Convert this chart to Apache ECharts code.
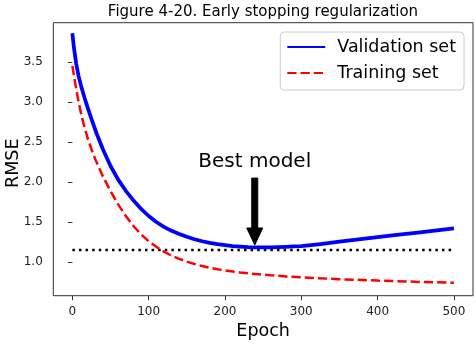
<!DOCTYPE html>
<html>
<head>
<meta charset="utf-8">
<script src="https://cdn.jsdelivr.net/npm/echarts@6/dist/echarts.min.js"></script>
<style>
html,body{margin:0;padding:0;background:#fff;}
#chart{width:476px;height:345px;}
</style>
</head>
<body>
<div id="chart"></div>
<script>
const titleText = 'Figure 4-20. Early stopping regularization';
const xTicks = [0, 100, 200, 300, 400, 500];
const yTicks = [1.0, 1.5, 2.0, 2.5, 3.0, 3.5];

const valEpochs = [0, 2, 5, 8, 12, 16, 20, 26, 32, 40, 50, 60, 70, 80, 90, 100, 110, 120, 130, 140, 150, 160, 170, 180, 190, 200, 210, 220, 230, 240, 250, 260, 270, 280, 290, 300, 325, 350, 375, 400, 425, 450, 475, 500];
const valRmse = [3.86, 3.68, 3.48, 3.33, 3.18, 3.05, 2.93, 2.76, 2.60, 2.41, 2.20, 2.03, 1.89, 1.77, 1.665, 1.575, 1.50, 1.44, 1.39, 1.35, 1.315, 1.285, 1.26, 1.24, 1.224, 1.211, 1.20, 1.192, 1.186, 1.183, 1.182, 1.183, 1.185, 1.189, 1.194, 1.20, 1.225, 1.255, 1.283, 1.31, 1.338, 1.365, 1.392, 1.42];

const trainEpochs = [0, 4, 8, 12, 16, 20, 25, 30, 40, 50, 60, 70, 80, 90, 100, 110, 120, 130, 140, 150, 160, 170, 180, 190, 200, 220, 240, 260, 280, 300, 350, 400, 450, 500];
const trainRmse = [3.45, 3.22, 3.01, 2.83, 2.68, 2.55, 2.41, 2.285, 2.07, 1.885, 1.72, 1.575, 1.45, 1.345, 1.26, 1.19, 1.13, 1.08, 1.04, 1.005, 0.975, 0.95, 0.928, 0.91, 0.895, 0.87, 0.85, 0.834, 0.82, 0.808, 0.785, 0.768, 0.753, 0.74];

const bestLineEpochs = [0, 500];
const bestLineRmse = [1.15, 1.15];

const bestEpoch = 239;
const bestRmse = 1.18;
const bestTextRmse = 2.18;
const bestLabel = 'Best model';

const FONT = 'DejaVu Sans';
const zip = (xs, ys) => xs.map((x, i) => [x, ys[i]]);

const chart = echarts.init(document.getElementById('chart'), null, {renderer: 'canvas'});
chart.setOption({
  animation: false,
  backgroundColor: '#fff',
  textStyle: {fontFamily: FONT},
  title: {
    text: titleText,
    left: 263,
    top: 5,
    textAlign: 'center',
    padding: 0,
    textStyle: {fontFamily: FONT, fontSize: 15, fontWeight: 'normal', color: '#000'}
  },
  grid: {
    left: 53.3, top: 22.7, right: 3, bottom: 49.3,
    show: true, borderColor: '#333', borderWidth: 1, backgroundColor: 'transparent',
    containLabel: false,
    outerBoundsMode: 'none'
  },
  legend: {
    orient: 'vertical',
    right: 12,
    top: 32,
    data: ['Validation set', 'Training set'],
    itemWidth: 38,
    itemHeight: 14,
    itemGap: 6,
    padding: [5, 8, 7, 6],
    backgroundColor: '#fff',
    borderColor: '#cccccc',
    borderWidth: 1,
    borderRadius: 4,
    itemStyle: {opacity: 0},
    textStyle: {fontFamily: FONT, fontSize: 17.5, color: '#000', lineHeight: 20, padding: [0, 0, 0, 7]}
  },
  xAxis: {
    type: 'value',
    min: -25, max: 525,
    name: 'Epoch',
    nameLocation: 'middle',
    nameGap: 27,
    nameMoveOverlap: false,
    nameTextStyle: {fontFamily: FONT, fontSize: 17.5, color: '#000'},
    axisLine: {show: false},
    splitLine: {show: false},
    axisTick: {show: true, inside: false, length: 4.5, customValues: xTicks, lineStyle: {color: '#333', width: 1}},
    axisLabel: {customValues: xTicks, margin: 10, fontFamily: FONT, fontSize: 12, color: '#222'}
  },
  yAxis: {
    type: 'value',
    min: 0.579, max: 3.991,
    name: 'RMSE',
    nameLocation: 'middle',
    nameGap: 31,
    nameMoveOverlap: false,
    nameTextStyle: {fontFamily: FONT, fontSize: 17.5, color: '#000', padding: [0, 8, 0, 0]},
    axisLine: {show: false},
    splitLine: {show: false},
    axisTick: {show: true, inside: false, length: 4.5, customValues: yTicks, lineStyle: {color: '#333', width: 1}},
    axisLabel: {customValues: yTicks, margin: 10.5, fontFamily: FONT, fontSize: 12, color: '#222',
      formatter: v => Number(v).toFixed(1)}
  },
  series: [
    {
      name: 'best', type: 'line', silent: true, symbol: 'none',
      data: zip(bestLineEpochs, bestLineRmse),
      lineStyle: {color: '#000', width: 2.5, type: [2.5, 4.1], cap: 'butt'},
      z: 1
    },
    {
      name: 'Validation set', type: 'line', symbol: 'none', smooth: false,
      data: zip(valEpochs, valRmse),
      itemStyle: {color: '#0000ff'},
      lineStyle: {color: '#0000ff', width: 3.75, join: 'round'},
      z: 3
    },
    {
      name: 'Training set', type: 'line', symbol: 'none', smooth: false,
      data: zip(trainEpochs, trainRmse),
      itemStyle: {color: '#ff0000'},
      lineStyle: {color: '#ff0000', width: 2.5, type: [9.25, 4], cap: 'butt'},
      z: 3
    },
    {
      name: 'annotation', type: 'custom', silent: true,
      data: [[bestEpoch, bestRmse, bestTextRmse]],
      z: 5,
      renderItem: function (params, api) {
        const p0 = api.coord([api.value(0), api.value(1)]);
        const p1 = api.coord([api.value(0), api.value(2)]);
        const x = p0[0];
        const tipY = p0[1] - 2.6;
        const headTop = tipY - 17;
        const shaftTop = p1[1] + 10.5;
        return {
          type: 'group',
          children: [
            {
              type: 'polygon',
              shape: {points: [[x - 3, shaftTop], [x + 3, shaftTop], [x + 3, headTop], [x + 8, headTop], [x, tipY], [x - 8, headTop], [x - 3, headTop]]},
              style: {fill: '#000', stroke: '#000', lineWidth: 1}
            },
            {
              type: 'text',
              x: x, y: p1[1] + 4,
              style: {text: bestLabel, fontFamily: FONT, fontSize: 20, fill: '#000', textAlign: 'center', textVerticalAlign: 'bottom'}
            }
          ]
        };
      }
    }
  ]
});
</script>
</body>
</html>
